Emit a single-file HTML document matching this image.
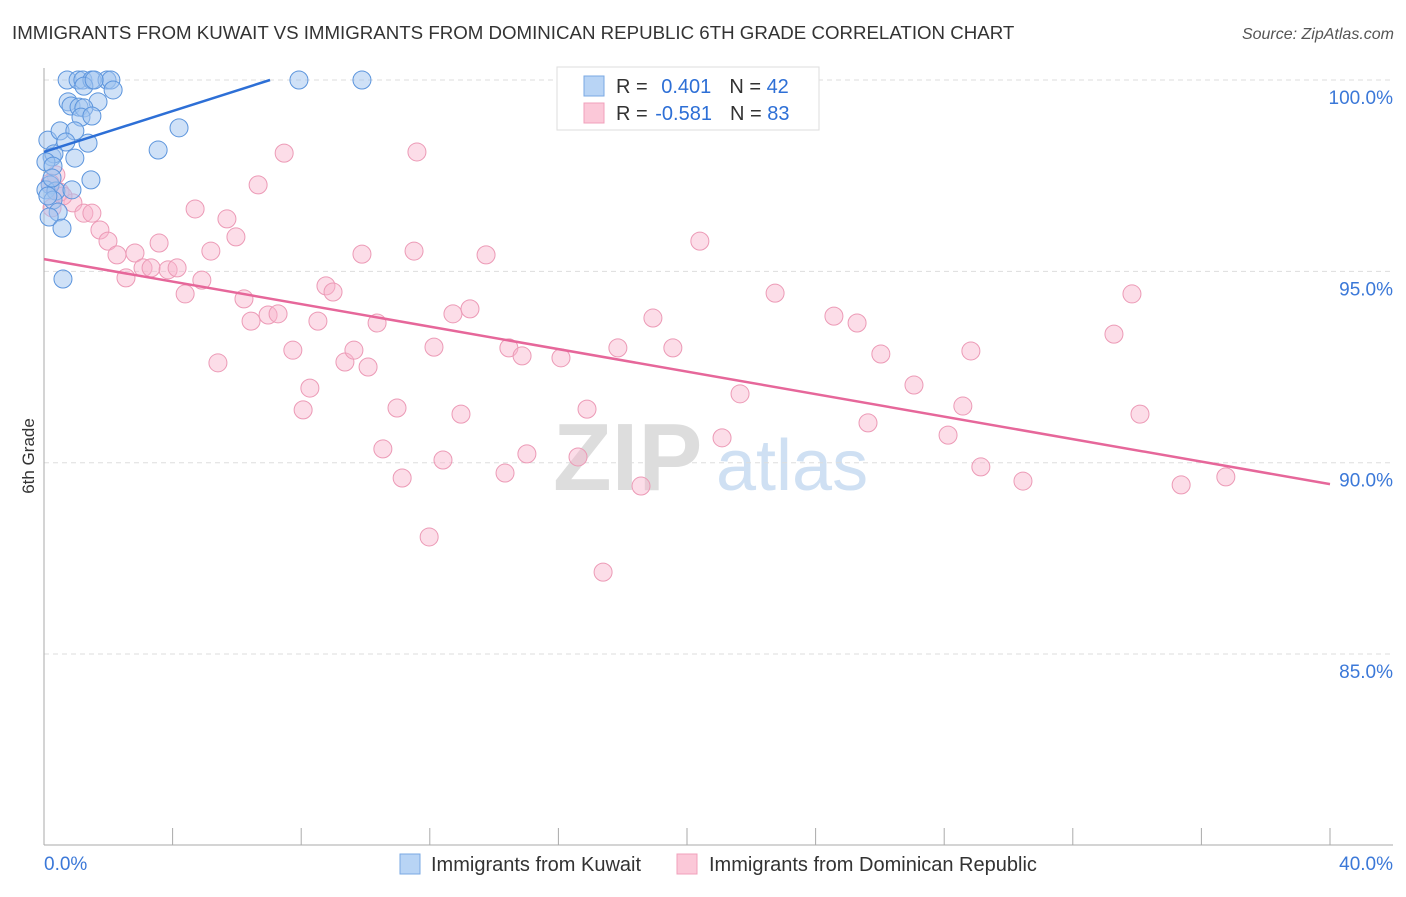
<!DOCTYPE html>
<html><head><meta charset="utf-8"><style>
body{margin:0;background:#fff;font-family:"Liberation Sans",sans-serif;}
svg text{font-family:"Liberation Sans",sans-serif;}
</style></head><body>
<svg id="chart" width="1406" height="892" xmlns="http://www.w3.org/2000/svg">
<text x="12" y="39" font-size="18.7" fill="#333">IMMIGRANTS FROM KUWAIT VS IMMIGRANTS FROM DOMINICAN REPUBLIC 6TH GRADE CORRELATION CHART</text>
<text x="1394" y="39" font-size="16" fill="#555" text-anchor="end" font-style="italic">Source: ZipAtlas.com</text>
<g>
<text x="553" y="490" font-size="96" fill="#ddd" font-family="Liberation Serif" font-weight="bold">ZIP</text>
<text x="716" y="490" font-size="72" fill="#cfe0f3">atlas</text>
</g>
<g id="grid"></g><g id="axes"></g><g id="pts"></g><g id="trend"></g>
<text transform="translate(34,456) rotate(-90)" font-size="17" fill="#333" text-anchor="middle">6th Grade</text>
<g>
<rect x="557" y="67" width="262" height="63" fill="#fff" stroke="#ddd"/>
<rect x="584" y="76" width="20" height="20" fill="#b8d4f5" stroke="#7aa8e3"/>
<rect x="584" y="103" width="20" height="20" fill="#fbc8d8" stroke="#f0a0bb"/>
<text x="616" y="93" font-size="20" fill="#333">R = <tspan fill="#2d6fd6" dx="8">0.401</tspan><tspan fill="#333" dx="18">N = </tspan><tspan fill="#2d6fd6">42</tspan></text>
<text x="616" y="120" font-size="20" fill="#333">R = <tspan fill="#2d6fd6" dx="2">-0.581</tspan><tspan fill="#333" dx="18">N = </tspan><tspan fill="#2d6fd6">83</tspan></text>
</g>
<g><rect x="400" y="854" width="20" height="20" fill="#b8d4f5" stroke="#7aa8e3"/><text x="431" y="871" font-size="20" fill="#333">Immigrants from Kuwait</text></g>
<g><rect x="677" y="854" width="20" height="20" fill="#fbc8d8" stroke="#f0a0bb"/><text x="709" y="871" font-size="20" fill="#333">Immigrants from Dominican Republic</text></g>
</svg>
<script>
const yTicks=[100,95,90,85];
const xTickLabels=["0.0%","40.0%"];
const blueX=[.72,1.06,1.21,1.49,1.96,2.08,7.93,9.89,1.24,2.15,1.68,.75,.84,1.09,1.24,1.15,1.49,.12,.5,.96,.68,1.37,.25,.31,.96,.06,.28,1.46,.19,.06,.37,.87,.28,.44,.16,.56,.59,3.55,4.2,1.56,.25,.12];
const blueY=[100,100,100,100,100,100,100,100,99.84,99.74,99.43,99.43,99.32,99.29,99.27,99.03,99.06,98.43,98.67,98.67,98.38,98.35,97.99,98.07,97.96,97.86,97.75,97.39,97.26,97.13,97.10,97.13,96.86,96.55,96.42,96.13,94.80,98.17,98.75,100,97.44,96.97];
const pinkX=[.37,.19,.5,.25,.9,.59,1.24,1.49,1.74,1.99,2.27,2.55,2.83,3.08,3.33,3.58,3.86,4.14,4.39,4.7,4.91,5.19,5.41,5.69,5.97,6.22,6.44,6.66,6.97,7.28,7.47,7.74,8.06,8.27,8.52,8.77,8.99,9.36,9.64,9.89,10.08,10.36,10.54,10.98,11.14,11.51,11.6,11.98,12.13,12.41,12.72,12.97,13.25,13.75,14.34,14.46,14.87,15.02,16.08,16.61,16.89,17.39,17.85,18.57,18.94,19.56,20.4,21.09,21.65,22.74,24.57,25.29,25.63,26.03,27.06,28.12,28.58,28.83,29.14,30.45,33.28,33.84,34.09,35.37,36.76];
const pinkY=[97.52,97.31,97.07,96.66,96.79,96.97,96.52,96.52,96.08,95.79,95.43,94.83,95.48,95.09,95.09,95.74,95.04,95.09,94.41,96.63,94.77,95.53,92.61,96.37,95.90,94.28,93.70,97.26,93.86,93.89,98.09,92.94,91.38,91.95,93.70,94.62,94.46,92.63,92.94,95.45,92.50,93.65,90.36,91.43,89.60,95.53,98.12,88.06,93.02,90.07,93.89,91.27,94.02,95.43,89.73,93.00,92.79,90.23,92.74,90.15,91.40,87.14,93.00,89.39,93.78,93.00,95.79,90.65,91.80,94.43,93.83,93.65,91.04,92.84,92.03,90.72,91.48,92.92,89.89,89.52,93.36,94.41,91.27,89.42,89.63];
const blueTrend=[0,98.12,7.03,100];
const pinkTrend=[0,95.32,40,89.44];
const NS="http://www.w3.org/2000/svg";
const xs=v=>44+v*32.15, ys=v=>80+(100-v)*38.27;
function mk(tag,parent,attrs){const e=document.createElementNS(NS,tag);for(const k in attrs)e.setAttribute(k,attrs[k]);document.getElementById(parent).appendChild(e);return e;}
yTicks.forEach(t=>{
 const g=mk('line','grid',{x1:44,x2:1393,y1:ys(t),y2:ys(t),stroke:'#ddd','stroke-dasharray':'5,4'});
 
 
 const l=mk('text','grid',{x:1393,y:ys(t)+24,'font-size':19,fill:'#3b78d8','text-anchor':'end'});
 l.textContent=t.toFixed(1)+'%';
 
 
});
let a=mk('line','axes',{x1:44,x2:44,y1:68,y2:845,stroke:'#aaa'});


a=mk('line','axes',{x1:44,x2:1393,y1:845,y2:845,stroke:'#aaa'});


for(let i=0;i<=10;i++){const t=mk('line','axes',{x1:xs(i*4),x2:xs(i*4),y1:828,y2:845,stroke:'#aaa'});
 
 }
[[0,'start',44],[40,'end',1393]].forEach((d,i)=>{const t=mk('text','axes',{x:d[2],y:870,'font-size':19,fill:'#3b78d8','text-anchor':d[1]});t.textContent=xTickLabels[i];
 
 });
pinkX.forEach((x,i)=>{const c=mk('circle','pts',{cx:xs(x),cy:ys(pinkY[i]),r:9,fill:'rgba(248,180,203,0.45)',stroke:'#ec9ab6','stroke-width':1});
 
 });
blueX.forEach((x,i)=>{const c=mk('circle','pts',{cx:xs(x),cy:ys(blueY[i]),r:9,fill:'rgba(160,196,240,0.5)',stroke:'#5c95dd','stroke-width':1});
 
 });
let tl=mk('line','trend',{x1:xs(blueTrend[0]),y1:ys(blueTrend[1]),x2:xs(blueTrend[2]),y2:ys(blueTrend[3]),stroke:'#2d6fd6','stroke-width':2.5});


tl=mk('line','trend',{x1:xs(pinkTrend[0]),y1:ys(pinkTrend[1]),x2:xs(pinkTrend[2]),y2:ys(pinkTrend[3]),stroke:'#e6679a','stroke-width':2.5});


</script>
</body></html>
